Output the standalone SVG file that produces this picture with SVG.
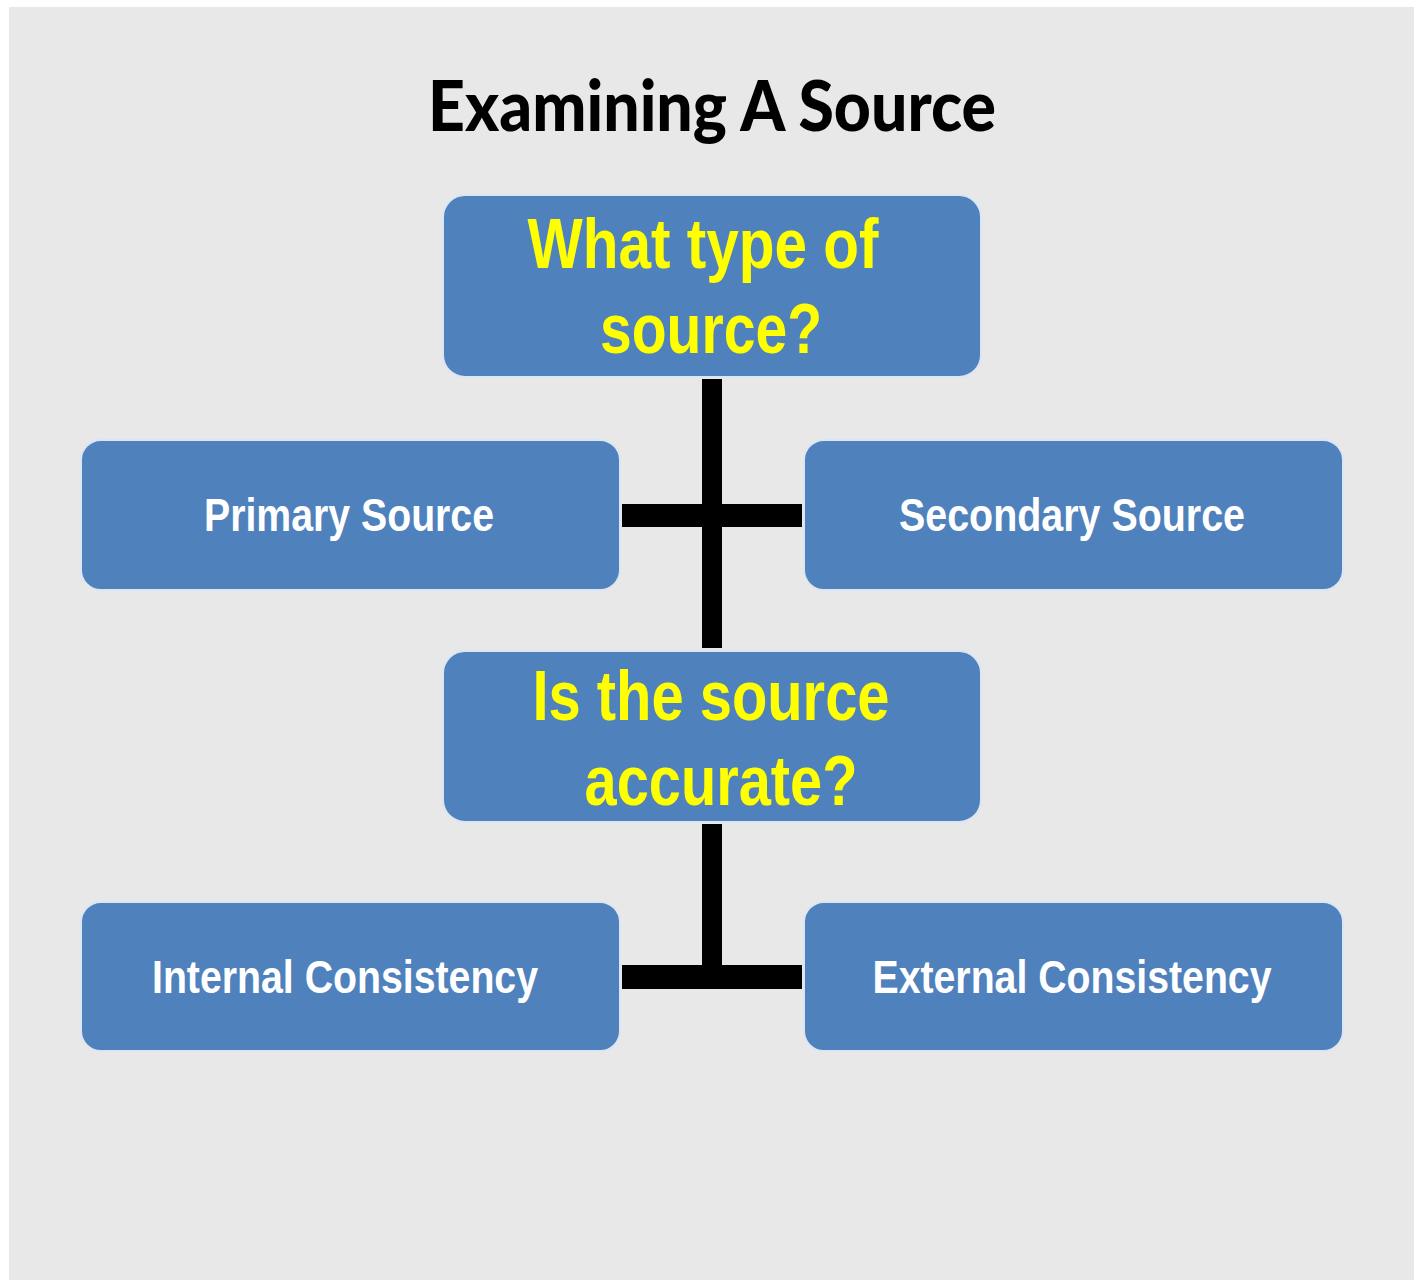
<svg xmlns="http://www.w3.org/2000/svg" width="1420" height="1280" viewBox="0 0 1420 1280">
<style>
.box{fill:#4F81BD;stroke:#DCE6F2;stroke-width:2}
.q{font-family:"Liberation Sans",Arial,sans-serif;font-weight:bold;fill:#FFFF00;font-size:70px;text-anchor:middle}
.a{font-family:"Liberation Sans",Arial,sans-serif;font-weight:bold;fill:#FFFFFF;font-size:46px;text-anchor:middle}
.title{font-family:Lato,"Open Sans",sans-serif;font-weight:900;fill:#000;font-size:70px;text-anchor:middle}
.bar{fill:#000}
</style>
<rect x="0" y="0" width="1420" height="1280" fill="#FFFFFF"/>
<rect x="9" y="7" width="1405" height="1273" fill="#E8E8E8"/>
<text class="title" x="712" y="131" textLength="568" lengthAdjust="spacingAndGlyphs">Examining A Source</text>
<g id="connectors">
<rect class="bar" x="702" y="379" width="20" height="269"/>
<rect class="bar" x="622" y="504" width="180" height="23"/>
<rect class="bar" x="702" y="824" width="20" height="165"/>
<rect class="bar" x="622" y="965" width="180" height="24"/>
</g>
<g id="node-type">
<rect class="box" x="443" y="195" width="538" height="182" rx="22"/>
<text class="q" x="703" y="268" textLength="351" lengthAdjust="spacingAndGlyphs">What type of</text>
<text class="q" x="711" y="353" textLength="222" lengthAdjust="spacingAndGlyphs">source?</text>
</g>
<g id="node-primary">
<rect class="box" x="81" y="440" width="539" height="150" rx="20"/>
<text class="a" x="349" y="531" textLength="290" lengthAdjust="spacingAndGlyphs">Primary Source</text>
</g>
<g id="node-secondary">
<rect class="box" x="804" y="440" width="539" height="150" rx="20"/>
<text class="a" x="1072" y="531" textLength="346" lengthAdjust="spacingAndGlyphs">Secondary Source</text>
</g>
<g id="node-accurate">
<rect class="box" x="443" y="651" width="538" height="171" rx="22"/>
<text class="q" x="711" y="720" textLength="357" lengthAdjust="spacingAndGlyphs">Is the source</text>
<text class="q" x="721" y="805" textLength="273" lengthAdjust="spacingAndGlyphs">accurate?</text>
</g>
<g id="node-internal">
<rect class="box" x="81" y="902" width="539" height="149" rx="20"/>
<text class="a" x="345" y="993" textLength="386" lengthAdjust="spacingAndGlyphs">Internal Consistency</text>
</g>
<g id="node-external">
<rect class="box" x="804" y="902" width="539" height="149" rx="20"/>
<text class="a" x="1072" y="993" textLength="399" lengthAdjust="spacingAndGlyphs">External Consistency</text>
</g>
</svg>
